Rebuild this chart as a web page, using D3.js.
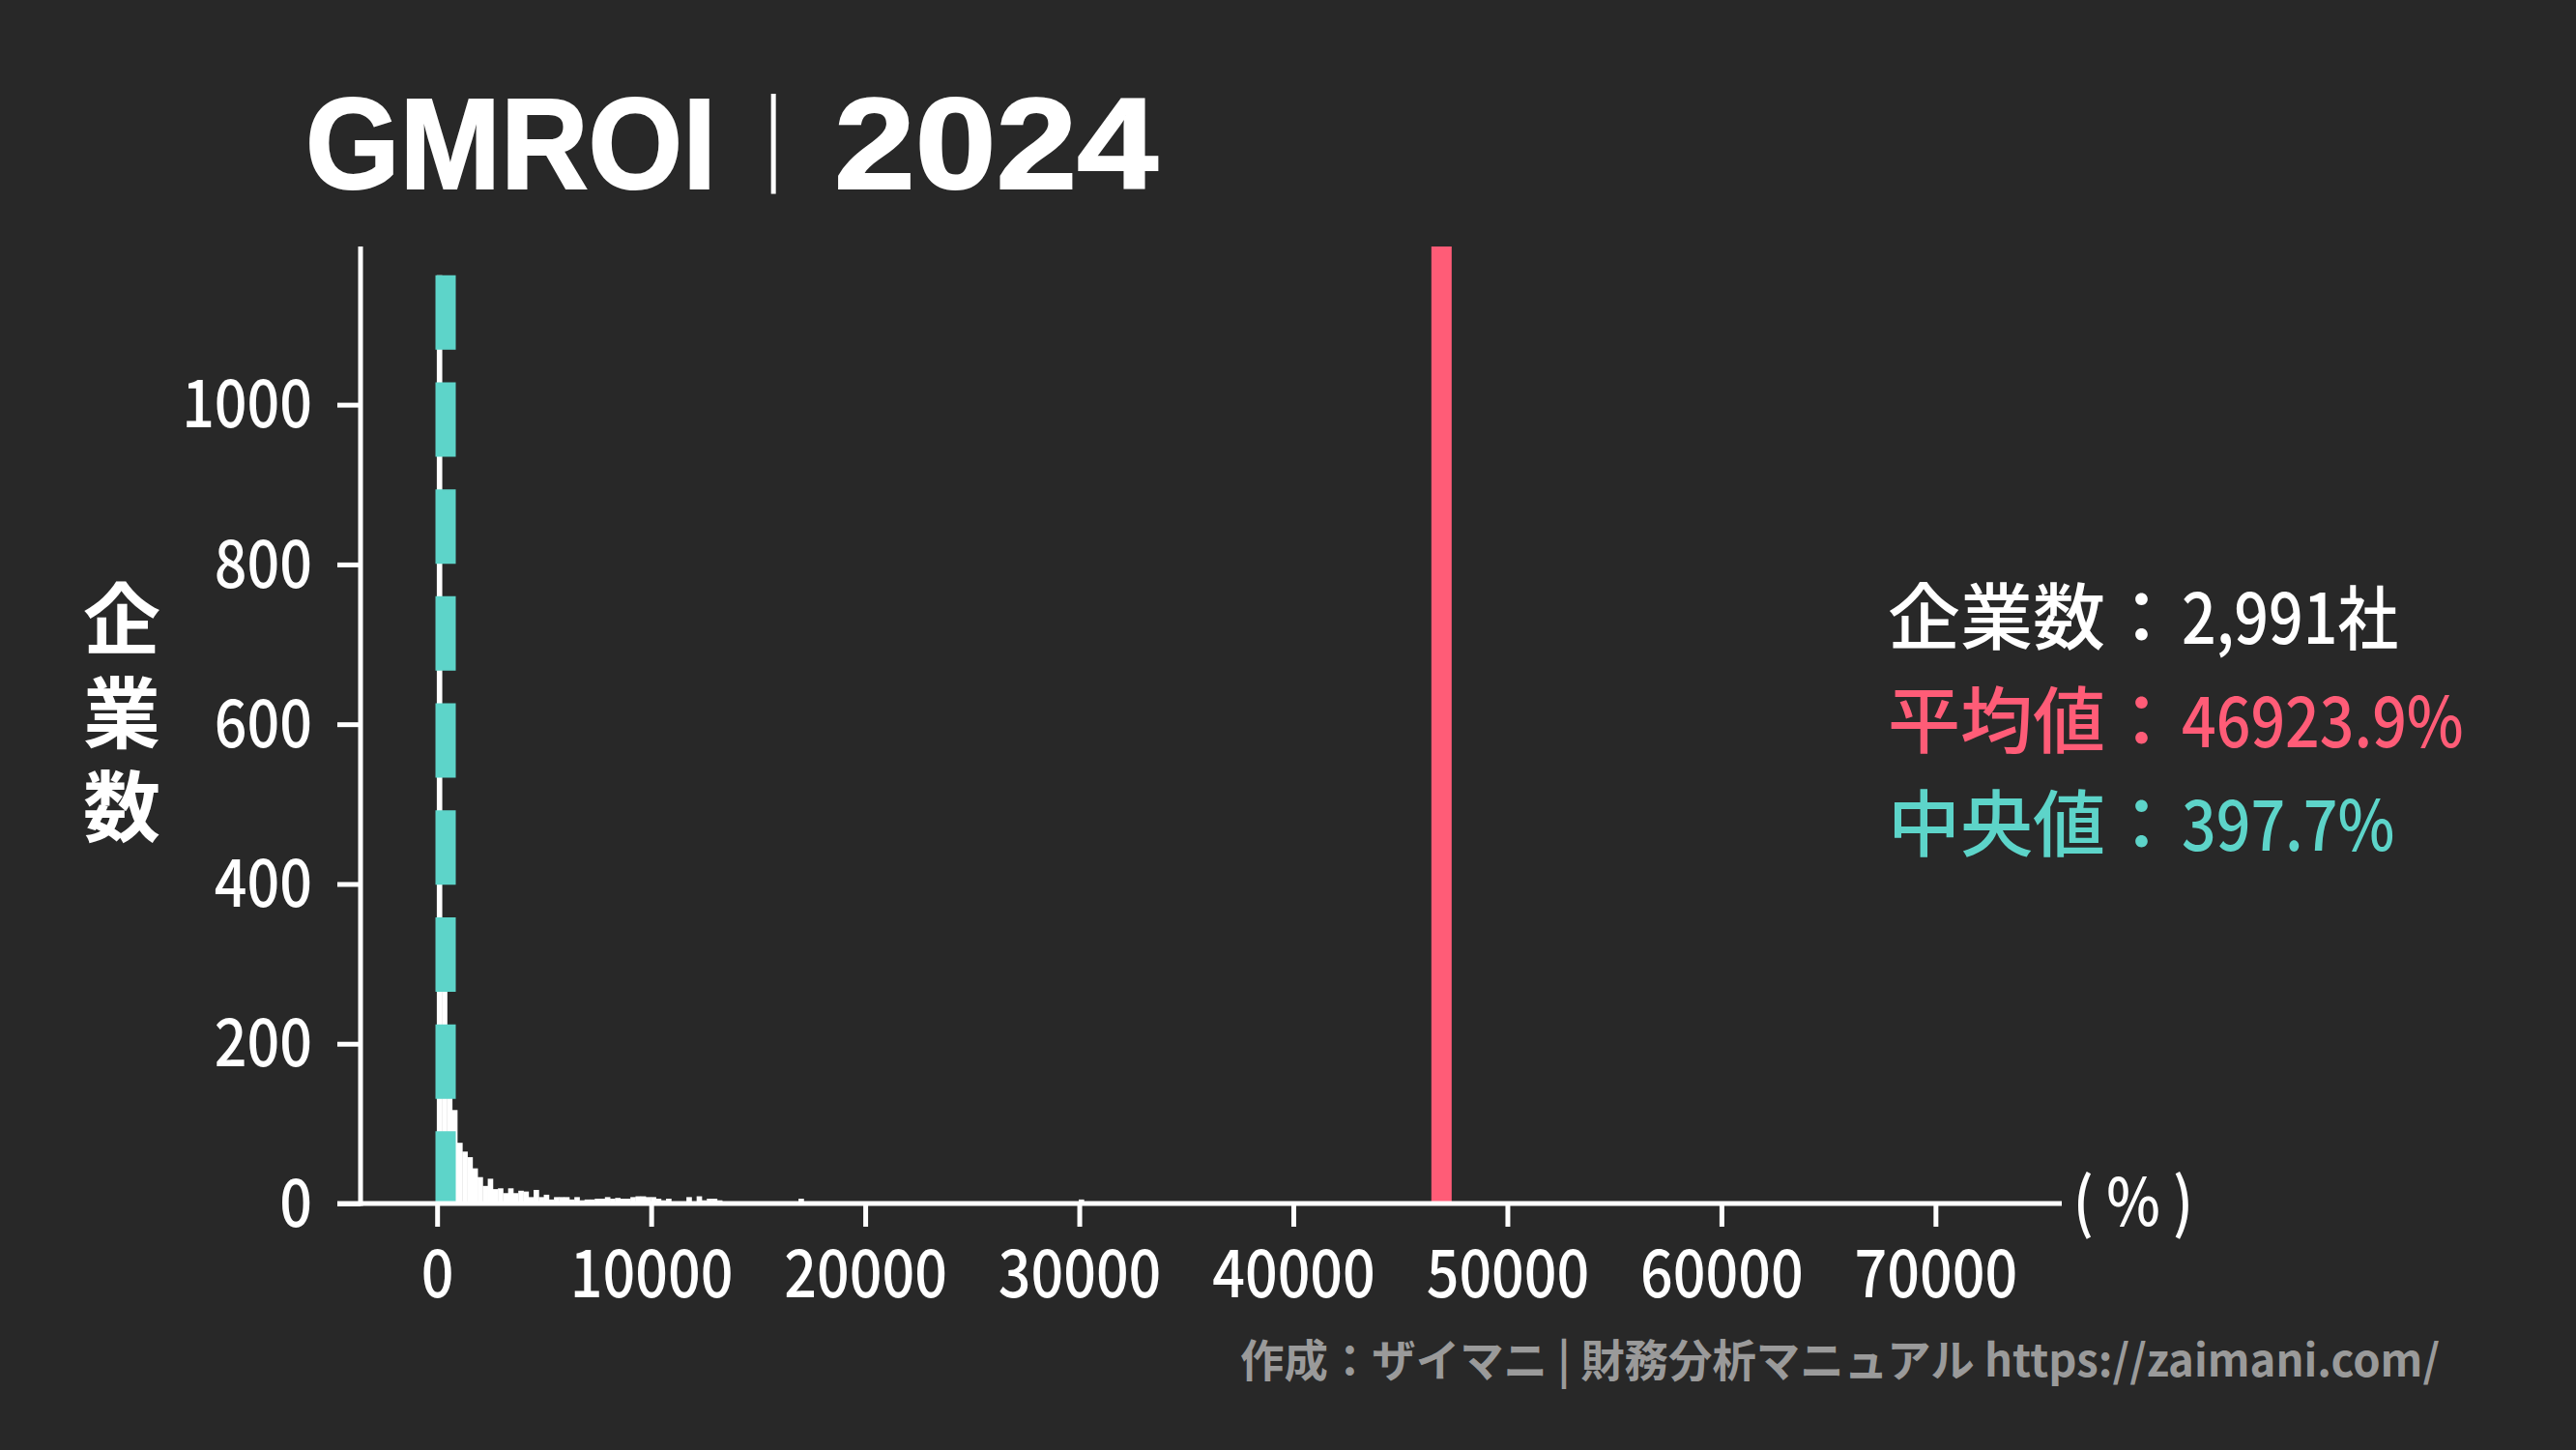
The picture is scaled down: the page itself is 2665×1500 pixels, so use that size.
<!DOCTYPE html>
<html>
<head>
<meta charset="utf-8">
<script src="https://cdn.jsdelivr.net/npm/d3@7"></script>
<style>
  body { margin: 0; background: #282828; }
  svg { display: block; }
</style>
</head>
<body>
<div id="chart"></div>
<script>
// histogram bins (GMROI %, bin width)
const binStart = -14;
const binWidth = 238;
const counts = [
  1162, 310, 180, 117, 76, 65, 58, 44, 33, 22,
  31, 18, 19, 13, 19, 13, 16, 15, 8, 17,
  8, 11, 5, 8, 8, 8, 5, 8, 4, 5,
  5, 6, 6, 8, 6, 7, 6, 6, 8, 9,
  9, 8, 8, 6, 4, 6, 2, 2, 2, 8,
  2, 9, 4, 6, 6, 4, 2, 2, 2, 1,
  2, 1, 2, 1, 1, 2, 1, 0, 1, 2,
  1, 6, 1, 0, 1, 1, 0, 2, 1, 0,
  1, 0, 1, 1, 0, 0, 1, 0, 1, 0,
  0, 1, 0, 0, 1, 0, 0, 0, 1, 0,
  0, 1, 0, 0, 0, 1, 0, 0, 0, 0,
  1, 0, 0, 0, 0, 1, 0, 0, 0, 0,
  0, 1, 0, 0, 0, 0, 5, 0, 1, 0
];
const xTicks = [0, 10000, 20000, 30000, 40000, 50000, 60000, 70000];
const yTicks = [0, 200, 400, 600, 800, 1000];
const meanValue = 46923.9;
const medianValue = 397.7;
const companyCount = 2991;
const titleText = "GMROI";
const yearText = "2024";
const footerText = "作成：ザイマニ | 財務分析マニュアル https://zaimani.com/";

const width = 2665, height = 1500;
const bg = "#282828";
const red = "#ff5c77";
const teal = "#5dd4c9";
const jpFont = "'Noto Sans CJK JP', 'Noto Sans', sans-serif";

const svg = d3.select("#chart").append("svg")
    .attr("width", width)
    .attr("height", height);

svg.append("rect")
    .attr("width", width)
    .attr("height", height)
    .attr("fill", bg);

// scales
const x = d3.scaleLinear().domain([-4660, 75900]).range([349, 2133]);
const y = d3.scaleLinear().domain([0, 1198]).range([1245, 255]);

const bins = counts.map((c, i) => ({
    x0: binStart + i * binWidth,
    x1: binStart + (i + 1) * binWidth,
    count: c
}));

// bars
svg.append("g")
    .selectAll("rect")
    .data(bins.filter(d => d.count > 0))
    .join("rect")
    .attr("x", d => x(d.x0))
    .attr("width", d => x(d.x1) - x(d.x0) + 0.4)
    .attr("y", d => y(d.count))
    .attr("height", d => y(0) - y(d.count))
    .attr("fill", "#ffffff");

// median line (dashed) and mean line
svg.append("line")
    .attr("x1", x(medianValue)).attr("x2", x(medianValue))
    .attr("y1", y(d3.max(counts))).attr("y2", y(0))
    .attr("stroke", teal)
    .attr("stroke-width", 21)
    .attr("stroke-dasharray", "77 33.7");

svg.append("line")
    .attr("x1", x(meanValue)).attr("x2", x(meanValue))
    .attr("y1", y.range()[1]).attr("y2", y(0))
    .attr("stroke", red)
    .attr("stroke-width", 21);

// axes
const squeeze = 0.87;

const gx = svg.append("g")
    .attr("transform", `translate(0,${y(0)})`)
    .call(d3.axisBottom(x).tickValues(xTicks).tickSize(24).tickSizeOuter(0).tickFormat(d3.format("d")));
gx.select(".domain").remove();
gx.selectAll(".tick line").attr("stroke", "#ffffff").attr("stroke-width", 5);
gx.selectAll(".tick text")
    .attr("fill", "#ffffff")
    .attr("font-family", jpFont)
    .attr("font-weight", 500)
    .attr("font-size", 68)
    .attr("y", 97)
    .attr("dy", 0)
    .attr("transform", `scale(${squeeze},1)`);

const gy = svg.append("g")
    .attr("transform", `translate(373,0)`)
    .call(d3.axisLeft(y).tickValues(yTicks).tickSize(24).tickSizeOuter(0).tickFormat(d3.format("d")));
gy.select(".domain").remove();
gy.selectAll(".tick line").attr("stroke", "#ffffff").attr("stroke-width", 5);
gy.selectAll(".tick text")
    .attr("fill", "#ffffff")
    .attr("font-family", jpFont)
    .attr("font-weight", 500)
    .attr("font-size", 68)
    .attr("x", -50 / squeeze)
    .attr("dy", "0.34em")
    .attr("transform", `scale(${squeeze},1)`);

// spines
svg.append("line")
    .attr("x1", x.range()[0]).attr("x2", x.range()[1])
    .attr("y1", y(0)).attr("y2", y(0))
    .attr("stroke", "#ffffff").attr("stroke-width", 5);
svg.append("line")
    .attr("x1", 373).attr("x2", 373)
    .attr("y1", y.range()[1]).attr("y2", y(0) + 2.5)
    .attr("stroke", "#ffffff").attr("stroke-width", 5);

// unit label
svg.append("text")
    .attr("transform", `translate(2207,1268) scale(${squeeze},1)`)
    .attr("text-anchor", "middle")
    .attr("fill", "#ffffff")
    .attr("font-family", jpFont)
    .attr("font-weight", 500)
    .attr("font-size", 68)
    .text("( % )");

// y label, written vertically
svg.append("text")
    .attr("x", 126).attr("y", 745)
    .attr("text-anchor", "middle")
    .style("writing-mode", "vertical-rl")
    .style("letter-spacing", "17px")
    .attr("fill", "#ffffff")
    .attr("font-family", jpFont)
    .attr("font-weight", 700)
    .attr("font-size", 80)
    .text("企業数");

// title
svg.append("text")
    .attr("x", 316).attr("y", 195)
    .attr("fill", "#ffffff")
    .attr("stroke", "#ffffff").attr("stroke-width", 2)
    .attr("font-family", "'Liberation Sans', Arial, sans-serif")
    .attr("font-weight", 700)
    .attr("font-size", 133)
    .attr("textLength", 425)
    .attr("lengthAdjust", "spacingAndGlyphs")
    .text(titleText);
svg.append("text")
    .attr("x", 800).attr("y", 176)
    .attr("text-anchor", "middle")
    .attr("fill", "#ffffff")
    .attr("font-family", "'DejaVu Sans', sans-serif")
    .attr("font-weight", 200)
    .attr("font-size", 104)
    .text("|");
svg.append("text")
    .attr("x", 863).attr("y", 195)
    .attr("fill", "#ffffff")
    .attr("stroke", "#ffffff").attr("stroke-width", 2)
    .attr("font-family", "'Liberation Sans', Arial, sans-serif")
    .attr("font-weight", 700)
    .attr("font-size", 133)
    .attr("textLength", 335)
    .attr("lengthAdjust", "spacingAndGlyphs")
    .text(yearText);

// summary block: label part and value part
const summaryLabels = ["企業数：", "平均値：", "中央値："];
const summaryValues = [`${d3.format(",")(companyCount)}社`, `${meanValue}%`, `${medianValue}%`];
const summaryColors = ["#ffffff", red, teal];

const summary = svg.append("g");
summary.selectAll("text.label")
    .data(summaryLabels)
    .join("text")
    .attr("class", "label")
    .attr("x", 1953)
    .attr("y", (d, i) => 666 + i * 107)
    .attr("fill", (d, i) => summaryColors[i])
    .attr("font-family", jpFont)
    .attr("font-weight", 500)
    .attr("font-size", 75)
    .text(d => d);
summary.selectAll("text.value")
    .data(summaryValues)
    .join("text")
    .attr("class", "value")
    .attr("transform", (d, i) => `translate(2257,${666 + i * 107}) scale(${squeeze},1)`)
    .attr("fill", (d, i) => summaryColors[i])
    .attr("font-family", jpFont)
    .attr("font-weight", 500)
    .attr("font-size", 72)
    .text(d => d);

// footer
svg.append("text")
    .attr("x", 2524).attr("y", 1424)
    .attr("text-anchor", "end")
    .attr("fill", "#9a9a9a")
    .attr("font-family", jpFont)
    .attr("font-weight", 700)
    .attr("font-size", 46)
    .attr("textLength", 1241)
    .attr("lengthAdjust", "spacingAndGlyphs")
    .text(footerText);
</script>
</body>
</html>
